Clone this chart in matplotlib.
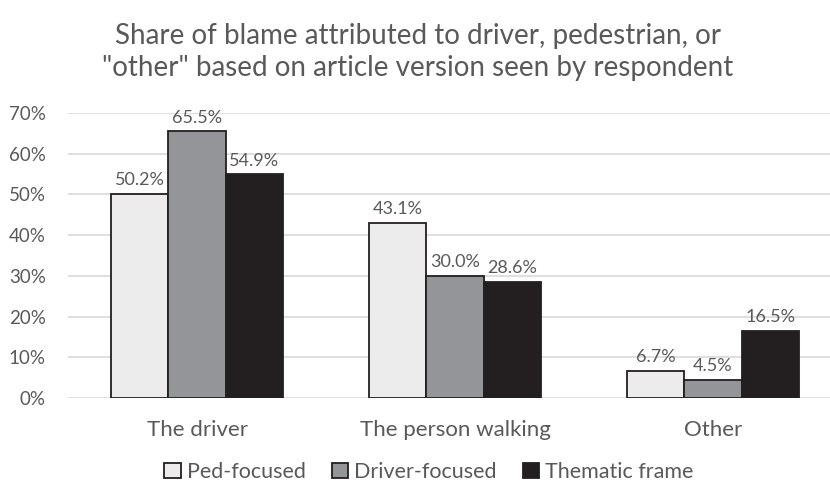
import numpy as np
import matplotlib.pyplot as plt
from matplotlib.ticker import PercentFormatter

categories = ["The driver", "The person walking", "Other"]
series = ["Ped-focused", "Driver-focused", "Thematic frame"]
ped_focused = [50.2, 43.1, 6.7]
driver_focused = [65.5, 30.0, 4.5]
thematic_frame = [54.9, 28.6, 16.5]

colors = ["#ececec", "#949598", "#231f20"]
edges = ["#231f20", "#231f20", "#231f20"]
TXT = "#595959"

plt.rcParams["font.family"] = ["Lato", "DejaVu Sans"]

fig = plt.figure(figsize=(8.30, 4.83), dpi=100)
W, H = 830, 483
ax = fig.add_axes([68 / W, 1 - 398 / H, (830 - 68) / W, (398 - 113) / H])

x = np.arange(len(categories))
bw = 0.223
for i, (vals, c, e) in enumerate(zip([ped_focused, driver_focused, thematic_frame], colors, edges)):
    pos = x + (i - 1) * bw
    ax.bar(pos, vals, width=bw, color=c, edgecolor=e, linewidth=1.3,
           label=series[i], zorder=3)
    for p, v in zip(pos, vals):
        ax.annotate(f"{v:.1f}%", (p, v), xytext=(0, 4), textcoords="offset points",
                    ha="center", va="bottom", fontsize=13, color=TXT)

ax.set_ylim(0, 70)
ax.set_xlim(-0.5, -0.5 + 762 / 258)
ax.set_yticks(np.arange(0, 71, 10))
ax.yaxis.set_major_formatter(PercentFormatter(decimals=0))
ax.set_xticks(x)
ax.set_xticklabels(categories)
ax.tick_params(axis="y", length=0, labelsize=13.5, colors=TXT, pad=16)
ax.tick_params(axis="x", length=0, labelsize=16, colors=TXT, pad=16)
ax.grid(axis="y", color="#d9d9d9", lw=1.2, zorder=0)
for s in ax.spines.values():
    s.set_visible(False)

fig.text(418 / W, 1 - 52 / H,
         "Share of blame attributed to driver, pedestrian, or\n\"other\" based on article version seen by respondent",
         ha="center", va="center", fontsize=20, color=TXT, linespacing=1.25)

fig.legend(loc="center", bbox_to_anchor=(429 / W, 1 - 472 / H), ncol=3, frameon=False,
           fontsize=15.5, labelcolor=TXT, handlelength=0.75, handleheight=0.75,
           handletextpad=0.3, columnspacing=1.2, borderpad=0)

fig.savefig("out.png", dpi=100)
